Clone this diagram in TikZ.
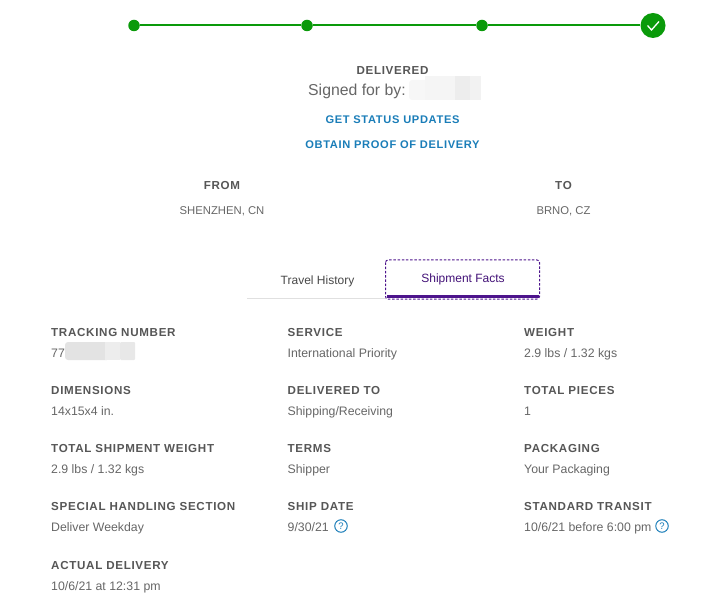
\documentclass[tikz,border=0pt]{standalone}
\usepackage{fontspec}
\setmainfont{Liberation Sans}
\newfontfamily\labfont[LetterSpace=6]{Liberation Sans}
\definecolor{okgreen}{HTML}{0A9A0A}
\definecolor{linkblue}{HTML}{1A7DB8}
\definecolor{labgrey}{HTML}{565656}
\definecolor{valgrey}{HTML}{666666}
\definecolor{tabpurple}{HTML}{4D148C}
\tikzset{
  x=1pt,y=-1pt,
  dot/.style={circle,fill=okgreen,inner sep=0pt,minimum size=11.5pt},
  bigdot/.style={circle,fill=okgreen,inner sep=0pt,minimum size=25pt},
  progline/.style={draw=okgreen,line width=2pt},
  lab/.style={anchor=base west,inner sep=0pt,text=labgrey,font=\labfont\fontsize{11.6}{14}\selectfont\bfseries},
  val/.style={anchor=base west,inner sep=0pt,text=valgrey,font=\fontsize{12.3}{14}\selectfont},
  clab/.style={lab,anchor=base},
  cval/.style={anchor=base,inner sep=0pt,text=valgrey,font=\fontsize{11.3}{14}\selectfont},
  lnk/.style={anchor=base,inner sep=0pt,text=linkblue,font=\labfont\fontsize{11.1}{14}\selectfont\bfseries},
  helpmark/.style={circle,draw=linkblue,line width=1pt,inner sep=0pt,minimum size=12.5pt,text=linkblue,font=\fontsize{9.5}{10}\selectfont},
}
\begin{document}
\begin{tikzpicture}
\useasboundingbox (0,0) rectangle (727,609);
% progress
\node[dot] (p1) at (134,25.5) {};
\node[dot] (p2) at (307,25.5) {};
\node[dot] (p3) at (482,25.5) {};
\node[bigdot] (p4) at (653,25.5) {};
\draw[progline] (p1) -- (p2);
\draw[progline] (p2) -- (p3);
\draw[progline] (p3) -- (p4);
\draw[white,line width=1.3pt] (647.5,25.5) -- (651.5,30) -- (659,21.5);
% status
\node[clab] (delivered) at (392.5,75) {DELIVERED};
\node[anchor=base west,inner sep=0pt,text=valgrey,font=\fontsize{15.8}{18}\selectfont] (signed) at (308,96) {Signed for by:};
\fill[black!3,rounded corners=3pt] (409,80) rectangle (445,100);
\fill[black!4] (425,76) rectangle (455,100);
\fill[black!7] (455,76) rectangle (470,100);
\fill[black!5] (470,76) rectangle (481,100);
\node[lnk] (status) at (392.5,124) {GET STATUS UPDATES};
\node[lnk] (proof) at (392.5,149) {OBTAIN PROOF OF DELIVERY};
% from/to
\node[clab] (from) at (222,190) {FROM};
\node[cval] (fromv) at (222,215) {SHENZHEN, CN};
\node[clab] (to) at (563.5,190) {TO};
\node[cval] (tov) at (563.5,215) {BRNO, CZ};
% tabs
\draw[black!12,line width=0.8pt] (247,298.5) -- (386,298.5);
\fill[tabpurple] (387,295) rectangle (539,298);
\draw[tabpurple,line width=1pt,dash pattern=on 2.5pt off 1.7pt,rounded corners=2.5pt] (385.5,260) rectangle (539.5,299);
\node[anchor=base,inner sep=0pt,text=black!72,font=\fontsize{12}{14}\selectfont] (travel) at (317.5,284) {Travel History};
\node[anchor=base,inner sep=0pt,text=tabpurple!85!black,font=\fontsize{12}{14}\selectfont] (facts) at (463,282) {Shipment Facts};
% column 1
\node[lab] (a1) at (51,336) {TRACKING NUMBER};
\node[val] (a1v) at (51,357) {77};
\fill[black!11,rounded corners=3pt] (65,342) rectangle (110,360);
\fill[black!7] (105,342) rectangle (120,360);
\fill[black!9,rounded corners=1pt] (120,342) rectangle (135,360);
\node[lab] (a2) at (51,394) {DIMENSIONS};
\node[val] (a2v) at (51,415) {14x15x4 in.};
\node[lab] (a3) at (51,452) {TOTAL SHIPMENT WEIGHT};
\node[val] (a3v) at (51,473) {2.9 lbs / 1.32 kgs};
\node[lab] (a4) at (51,510) {SPECIAL HANDLING SECTION};
\node[val] (a4v) at (51,531) {Deliver Weekday};
\node[lab] (a5) at (51,569) {ACTUAL DELIVERY};
\node[val] (a5v) at (51,590) {10/6/21 at 12:31 pm};
% column 2
\node[lab] (b1) at (287.5,336) {SERVICE};
\node[val] (b1v) at (287.5,357) {International Priority};
\node[lab] (b2) at (287.5,394) {DELIVERED TO};
\node[val] (b2v) at (287.5,415) {Shipping/Receiving};
\node[lab] (b3) at (287.5,452) {TERMS};
\node[val] (b3v) at (287.5,473) {Shipper};
\node[lab] (b4) at (287.5,510) {SHIP DATE};
\node[val] (b4v) at (287.5,531) {9/30/21};
\node[helpmark] (b4h) at (341,526) {?};
% column 3
\node[lab] (c1) at (524,336) {WEIGHT};
\node[val] (c1v) at (524,357) {2.9 lbs / 1.32 kgs};
\node[lab] (c2) at (524,394) {TOTAL PIECES};
\node[val] (c2v) at (524,415) {1};
\node[lab] (c3) at (524,452) {PACKAGING};
\node[val] (c3v) at (524,473) {Your Packaging};
\node[lab] (c4) at (524,510) {STANDARD TRANSIT};
\node[val] (c4v) at (524,531) {10/6/21 before 6:00 pm};
\node[helpmark] (c4h) at (662,526) {?};
\end{tikzpicture}
\end{document}
